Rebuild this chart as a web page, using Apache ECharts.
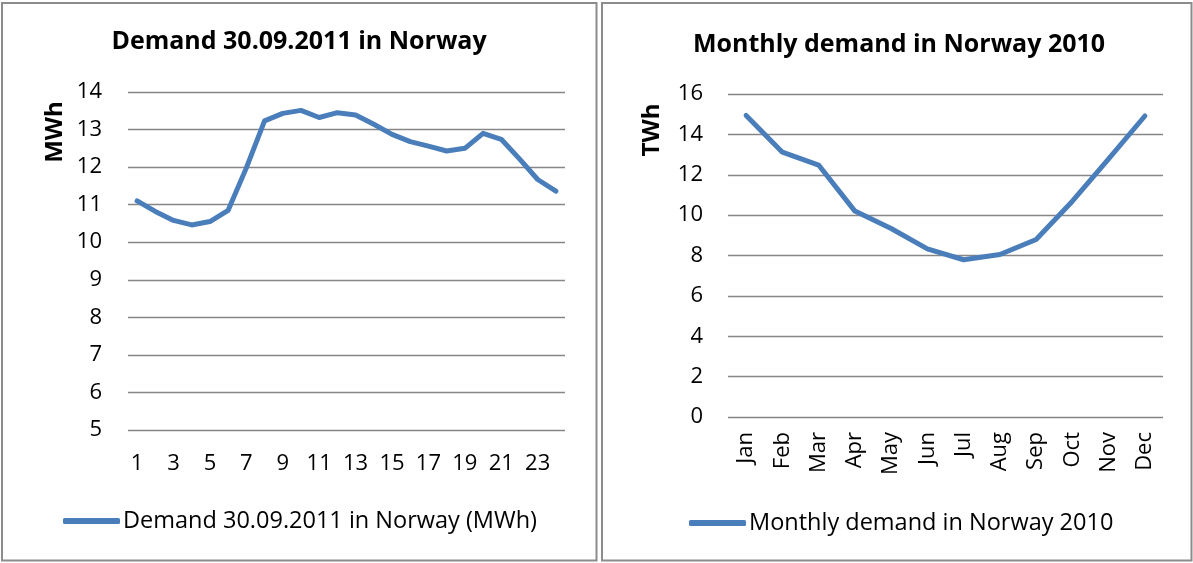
<!DOCTYPE html>
<html>
<head>
<meta charset="utf-8">
<script src="https://cdn.jsdelivr.net/npm/echarts@6/dist/echarts.min.js"></script>
<style>
html,body{margin:0;padding:0;background:#fff;}
#chart{width:1193px;height:563px;}
</style>
</head>
<body>
<div id="chart"></div>
<script>
// Left chart: hourly demand 30.09.2011
var hours = ['1','2','3','4','5','6','7','8','9','10','11','12','13','14','15','16','17','18','19','20','21','22','23','24'];
var hourlyDemand = [11.10, 10.82, 10.58, 10.46, 10.55, 10.85, 11.98, 13.23, 13.43, 13.51, 13.32, 13.45, 13.39, 13.14, 12.87, 12.68, 12.56, 12.43, 12.50, 12.90, 12.74, 12.22, 11.67, 11.36];
// Right chart: monthly demand 2010
var months = ['Jan','Feb','Mar','Apr','May','Jun','Jul','Aug','Sep','Oct','Nov','Dec'];
var monthlyDemand = [14.94, 13.12, 12.48, 10.20, 9.34, 8.33, 7.79, 8.05, 8.79, 10.69, 12.79, 14.91];

var leftTitle = 'Demand 30.09.2011 in Norway';
var rightTitle = 'Monthly demand in Norway 2010';
var leftSeriesName = 'Demand 30.09.2011 in Norway (MWh)';
var rightSeriesName = 'Monthly demand in Norway 2010';
var leftUnit = 'MWh';
var rightUnit = 'TWh';

var FONT = '"Open Sans", "Noto Sans", sans-serif';
var LINE = '#4a7ebb';
var GRID = '#868686';

var chart = echarts.init(document.getElementById('chart'), null, {renderer: 'canvas'});

var axisLabelStyle = {color: '#000', fontFamily: FONT, fontSize: 22};

chart.setOption({
  animation: false,
  backgroundColor: '#fff',
  title: [
    {text: leftTitle, left: 299, top: 29, textAlign: 'center', padding: 0,
     textStyle: {fontFamily: FONT, fontWeight: 'bold', fontSize: 25, color: '#000'}},
    {text: rightTitle, left: 899, top: 32, textAlign: 'center', padding: 0,
     textStyle: {fontFamily: FONT, fontWeight: 'bold', fontSize: 25, color: '#000'}}
  ],
  legend: [
    {data: [leftSeriesName], left: 63, top: 509, padding: 0, icon: 'roundRect',
     itemWidth: 57, itemHeight: 6, itemGap: 0,
     textStyle: {fontFamily: FONT, fontSize: 23.5, color: '#000', padding: [0, 0, 0, -2]}},
    {data: [rightSeriesName], left: 689, top: 511, padding: 0, icon: 'roundRect',
     itemWidth: 57, itemHeight: 6, itemGap: 0,
     textStyle: {fontFamily: FONT, fontSize: 23.5, color: '#000', padding: [0, 0, 0, -2]}}
  ],
  grid: [
    {left: 128, right: 1193 - 565, top: 92, bottom: 563 - 430, containLabel: false},
    {left: 728, right: 1193 - 1163, top: 94, bottom: 563 - 417, containLabel: false}
  ],
  xAxis: [
    {type: 'category', gridIndex: 0, data: hours, boundaryGap: true,
     axisLine: {show: false}, axisTick: {show: false}, splitLine: {show: false},
     axisLabel: Object.assign({interval: 1, margin: 23}, axisLabelStyle)},
    {type: 'category', gridIndex: 1, data: months, boundaryGap: true,
     axisLine: {show: false}, axisTick: {show: false}, splitLine: {show: false},
     axisLabel: Object.assign({interval: 0, rotate: 90, margin: 15}, axisLabelStyle)}
  ],
  yAxis: [
    {type: 'value', gridIndex: 0, min: 5, max: 14, interval: 1,
     axisLine: {show: false}, axisTick: {show: false},
     splitLine: {show: true, lineStyle: {color: GRID, width: 1.3}},
     axisLabel: Object.assign({margin: 26}, axisLabelStyle)},
    {type: 'value', gridIndex: 1, min: 0, max: 16, interval: 2,
     axisLine: {show: false}, axisTick: {show: false},
     splitLine: {show: true, lineStyle: {color: GRID, width: 1.3}},
     axisLabel: Object.assign({margin: 25}, axisLabelStyle)}
  ],
  series: [
    {name: leftSeriesName, type: 'line', xAxisIndex: 0, yAxisIndex: 0, data: hourlyDemand,
     symbol: 'none', smooth: false, color: LINE,
     lineStyle: {color: LINE, width: 5, cap: 'round', join: 'round'}},
    {name: rightSeriesName, type: 'line', xAxisIndex: 1, yAxisIndex: 1, data: monthlyDemand,
     symbol: 'none', smooth: false, color: LINE,
     lineStyle: {color: LINE, width: 5, cap: 'round', join: 'round'}}
  ],
  graphic: [
    {type: 'rect', shape: {x: 2, y: 3, width: 594.5, height: 557.5},
     style: {fill: 'none', stroke: '#8c8c8c', lineWidth: 2}, z: -1},
    {type: 'rect', shape: {x: 602, y: 3, width: 589.5, height: 557.5},
     style: {fill: 'none', stroke: '#8c8c8c', lineWidth: 2}, z: -1},
    {type: 'text', x: 55, y: 132, rotation: Math.PI / 2,
     style: {text: leftUnit, fontFamily: FONT, fontWeight: 'bold', fontSize: 24, fill: '#000',
             align: 'center', verticalAlign: 'middle'}},
    {type: 'text', x: 652, y: 130, rotation: Math.PI / 2,
     style: {text: rightUnit, fontFamily: FONT, fontWeight: 'bold', fontSize: 24, fill: '#000',
             align: 'center', verticalAlign: 'middle'}}
  ]
});
</script>
</body>
</html>
